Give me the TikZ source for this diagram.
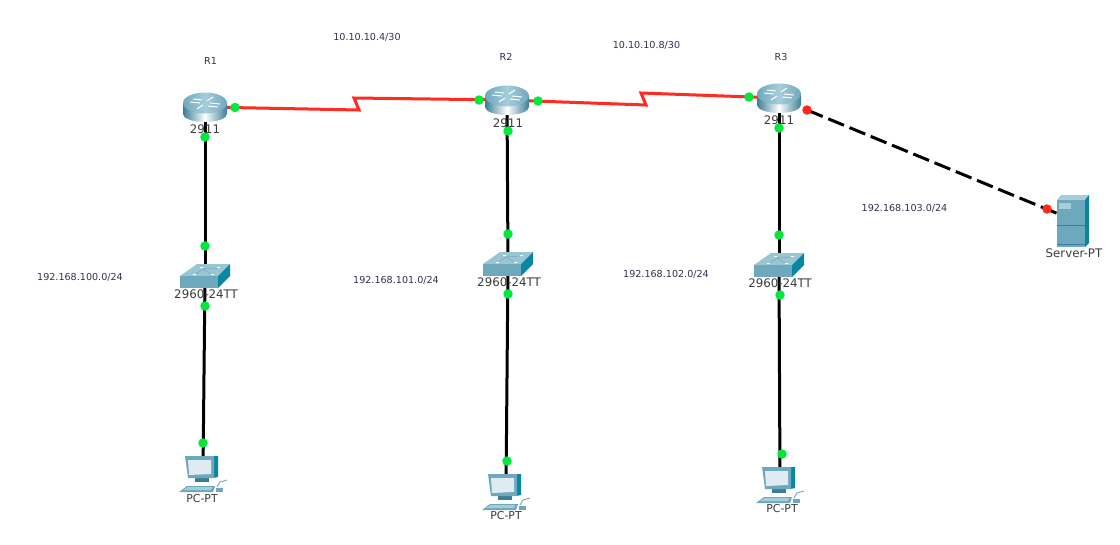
\documentclass[tikz,border=0pt]{standalone}
\usepackage{fontspec}
\setmainfont{DejaVu Sans}
\definecolor{linkgreen}{RGB}{0,232,60}
\definecolor{linkred}{RGB}{255,40,30}
\definecolor{cablered}{RGB}{255,42,32}
\definecolor{netblue}{RGB}{50,50,80}
\definecolor{devgray}{RGB}{60,60,60}
\definecolor{iconmid}{RGB}{110,168,188}
\definecolor{icondark}{RGB}{60,125,150}
\definecolor{iconside}{RGB}{10,135,160}
\definecolor{iconlight}{RGB}{165,205,218}
\definecolor{iconpale}{RGB}{222,236,242}
\tikzset{
  x=1pt,y=-1pt,
  cable/.style={line width=3pt,black},
  serial/.style={line width=3pt,cablered,line join=miter},
  crossover/.style={line width=3pt,black,dash pattern=on 17pt off 6pt},
  dotgreen/.style={circle,fill=linkgreen,inner sep=0pt,minimum size=9.5pt},
  dotred/.style={circle,fill=linkred,inner sep=0pt,minimum size=9.5pt},
  devlabel/.style={font=\fontsize{11.8}{13}\selectfont,text=devgray,inner sep=0pt},
  pclabel/.style={font=\fontsize{10.9}{13}\selectfont,text=devgray,inner sep=0pt},
  netlabel/.style={font=\fontsize{9.6}{11}\selectfont,text=netblue,inner sep=0pt},
  routericon/.pic={
    \path[left color=icondark,right color=icondark,middle color=white]
      (-22,-4) -- (-22,7) arc[start angle=180,end angle=0,x radius=22,y radius=8] -- (22,-4) -- cycle;
    \path[left color=iconmid,right color=iconmid,middle color=iconlight]
      (0,-4) ellipse[x radius=22,y radius=10.5];
    \draw[white,line width=1pt] (-15,-5) -- (-5,-4) (5,-4) -- (15,-3) (-8,2) -- (-2,-2) (2,-6) -- (8,-10) (-12,-8) -- (-3,-7) (3,-1) -- (13,0);
  },
  switchicon/.pic={
    \fill[iconlight!80!iconmid] (-25,0) -- (-8,-12) -- (25,-12) -- (13,0) -- cycle;
    \fill[iconmid] (-25,0) rectangle (13,12);
    \fill[iconside] (13,0) -- (25,-12) -- (25,0) -- (13,12) -- cycle;
    \fill[white] (-12,-2) rectangle (-9,-1) (-5,-9) rectangle (-2,-8) (12,-9) rectangle (15,-8) (6,-2) rectangle (9,-1);
    \draw[iconmid,line width=.5pt] (-9,-2) -- (-2,-7) -- (12,-8) (-2,-7) -- (6,-2);
  },
  pcicon/.pic={
    \fill[icondark] (-8,4) rectangle (6,9);
    \fill[iconside] (10,-17) -- (15,-17) -- (15,4) -- (10,5) -- cycle;
    \fill[iconmid] (-18,-17) -- (11,-17) -- (11,5) -- (-15,5) -- cycle;
    \fill[iconpale] (-15,-13) -- (8,-13) -- (8,1) -- (-14,2) -- cycle;
    \fill[iconmid] (-24,19) -- (-16,13) -- (12,13) -- (10,19) -- cycle;
    \fill[iconlight] (-20,17) -- (-15,14) -- (9,14) -- (8,17) -- cycle;
    \fill[iconmid] (13,15) rectangle (20,19);
    \draw[iconmid,line width=.9pt] (14,14) -- (17,9) -- (24,7);
  },
  servericon/.pic={
    \fill[iconlight] (-16,-16) -- (-12,-21) -- (16,-21) -- (12,-16) -- cycle;
    \fill[iconmid] (-16,-16) rectangle (12,31);
    \fill[iconside] (12,-16) -- (16,-21) -- (16,27) -- (12,31) -- cycle;
    \fill[iconlight] (-14,-13) rectangle (-2,-7);
    \draw[icondark,line width=.4pt] (-16,9) -- (12,9) (-16,28) -- (12,28);
  }
}
\begin{document}
\begin{tikzpicture}
\useasboundingbox[fill=white] (0,0) rectangle (1120,544);
% device anchors
\coordinate (r1) at (205,107);
\coordinate (r2) at (507,100);
\coordinate (r3) at (779,98);
\coordinate (s1) at (205,276);
\coordinate (s2) at (508,264);
\coordinate (s3) at (779,265);
\coordinate (p1) at (203,473);
\coordinate (p2) at (506,491);
\coordinate (p3) at (780,484);
\coordinate (srv) at (1073,216);
\coordinate (srvport) at (1073,220);
\coordinate (z1a) at (359,110);
\coordinate (z1b) at (354,98);
\coordinate (z2a) at (646,105);
\coordinate (z2b) at (641,93);
\coordinate (dashstart) at (807,110);
% cables
\draw[cable] (r1) -- (s1);
\draw[cable] (s1) -- (p1);
\draw[cable] (r2) -- (s2);
\draw[cable] (s2) -- (p2);
\draw[cable] (r3) -- (s3);
\draw[cable] (s3) -- (p3);
\draw[serial] (r1) -- (z1a) -- (z1b) -- (r2);
\draw[serial] (r2) -- (z2a) -- (z2b) -- (r3);
\draw[crossover] (dashstart) -- (srvport);
% icons
\pic at (r1) {routericon};
\pic at (r2) {routericon};
\pic at (r3) {routericon};
\pic at (s1) {switchicon};
\pic at (s2) {switchicon};
\pic at (s3) {switchicon};
\pic at (p1) {pcicon};
\pic at (p2) {pcicon};
\pic at (p3) {pcicon};
\pic at (srv) {servericon};
% device labels
\node[devlabel] (lr1) at (205,129) {2911};
\node[devlabel] (lr2) at (508,123) {2911};
\node[devlabel] (lr3) at (779,120) {2911};
\node[devlabel] (ls1) at (206,294) {2960-24TT};
\node[devlabel] (ls2) at (509,282) {2960-24TT};
\node[devlabel] (ls3) at (780,283) {2960-24TT};
\node[pclabel] (lp1) at (202,499) {PC-PT};
\node[pclabel] (lp2) at (506,516) {PC-PT};
\node[pclabel] (lp3) at (782,509) {PC-PT};
\node[devlabel] (lsv) at (1074,253) {Server-PT};
\node[netlabel] (nr1) at (210.5,61) {R1};
\node[netlabel] (nr2) at (506,57) {R2};
\node[netlabel] (nr3) at (781,57) {R3};
\node[netlabel] (n1) at (367,37) {10.10.10.4/30};
\node[netlabel] (n2) at (646.5,45) {10.10.10.8/30};
\node[netlabel] (n3) at (80,277) {192.168.100.0/24};
\node[netlabel] (n4) at (396,280) {192.168.101.0/24};
\node[netlabel] (n5) at (666,274) {192.168.102.0/24};
\node[netlabel] (n6) at (904.5,208) {192.168.103.0/24};
% link lights
\node[dotgreen] (d1) at (235,107.5) {};
\node[dotgreen] (d2) at (479,100) {};
\node[dotgreen] (d3) at (538,101) {};
\node[dotgreen] (d4) at (749,97) {};
\node[dotred] (d5) at (dashstart) {};
\node[dotred] (d6) at (1047,209) {};
\node[dotgreen] (d7) at (205,137) {};
\node[dotgreen] (d8) at (205,246) {};
\node[dotgreen] (d9) at (205,306) {};
\node[dotgreen] (d10) at (203,443) {};
\node[dotgreen] (d11) at (508,131) {};
\node[dotgreen] (d12) at (508,234) {};
\node[dotgreen] (d13) at (508,294) {};
\node[dotgreen] (d14) at (507,461) {};
\node[dotgreen] (d15) at (779,128) {};
\node[dotgreen] (d16) at (779,235) {};
\node[dotgreen] (d17) at (780,295) {};
\node[dotgreen] (d18) at (782,454) {};
\end{tikzpicture}
\end{document}
